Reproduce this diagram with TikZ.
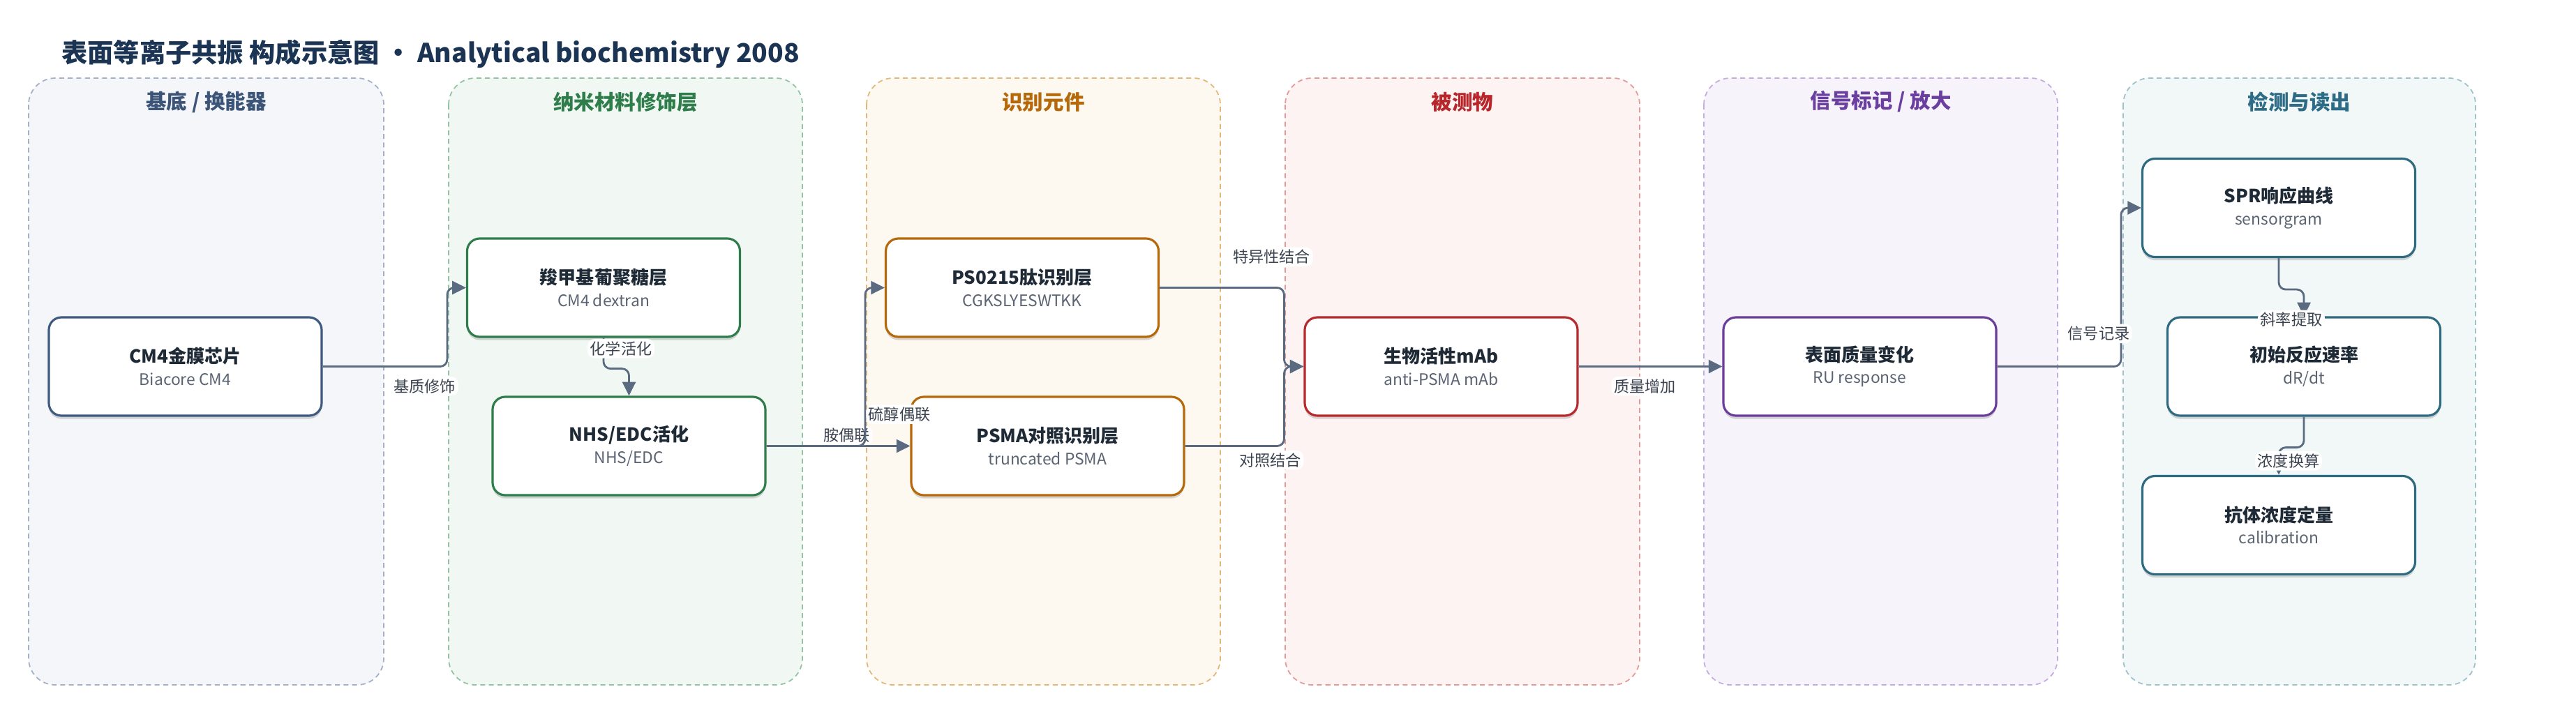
\documentclass[tikz,border=0pt]{standalone}
\usepackage{fontspec}
\setmainfont{Noto Sans CJK SC}
\usetikzlibrary{arrows.meta,shadows}

\definecolor{ink}{HTML}{1F2A37}
\definecolor{subc}{HTML}{5B6472}
\definecolor{titlec}{HTML}{1C3454}
\definecolor{flowc}{HTML}{5A6A80}
\definecolor{lblc}{HTML}{3A4250}
\definecolor{fillA}{HTML}{F4F6FA}\definecolor{lineA}{HTML}{A3B1C6}\definecolor{txtA}{HTML}{3B5477}\definecolor{boxA}{HTML}{3E5A80}
\definecolor{fillB}{HTML}{F1F8F3}\definecolor{lineB}{HTML}{93C3A3}\definecolor{txtB}{HTML}{2E7D4A}\definecolor{boxB}{HTML}{2E7D4A}
\definecolor{fillC}{HTML}{FDF8F0}\definecolor{lineC}{HTML}{E2B87A}\definecolor{txtC}{HTML}{B5690A}\definecolor{boxC}{HTML}{B5690A}
\definecolor{fillD}{HTML}{FDF3F2}\definecolor{lineD}{HTML}{E39A98}\definecolor{txtD}{HTML}{B8262B}\definecolor{boxD}{HTML}{B8292D}
\definecolor{fillE}{HTML}{F6F3FB}\definecolor{lineE}{HTML}{C4ACE0}\definecolor{txtE}{HTML}{6B3FA0}\definecolor{boxE}{HTML}{6A3D9A}
\definecolor{fillF}{HTML}{F2F7F8}\definecolor{lineF}{HTML}{9FC1C9}\definecolor{txtF}{HTML}{2D6C86}\definecolor{boxF}{HTML}{2E6A80}

\newcommand{\boxsub}{\fontsize{6.5}{8}\selectfont\mdseries\color{subc}}

\begin{document}
\begin{tikzpicture}[
		lane/.style={dash pattern=on 2pt off 1.5pt, line width=0.5pt, rounded corners=3.8mm},
		lanetitle/.style={font=\fontsize{8.4}{10}\selectfont\bfseries},
		box/.style={draw, fill=white, line width=0.9pt, rounded corners=1.8mm, minimum width=3.91cm, minimum height=1.41cm, align=center, text=ink, font=\fontsize{7.4}{9}\selectfont\bfseries, drop shadow={shadow xshift=0pt, shadow yshift=-1.3pt, opacity=0.15, fill=black}},
		flow/.style={draw=flowc, line width=0.8pt, rounded corners=1mm, -{Triangle[length=5.6pt,width=5.4pt]}},
		lbl/.style={fill=white, text=lblc, inner sep=1pt, font=\fontsize{6.3}{7.5}\selectfont}
	]
	\useasboundingbox (0,0) rectangle (36.92,-10.07);

	\node[anchor=west, text=titlec, font=\fontsize{10.6}{12}\selectfont\bfseries] (ttl) at (0.76,-0.77) {表面等离子共振 构成示意图 · Analytical biochemistry 2008};

	\draw[lane, fill=fillA, draw=lineA] (0.41,-1.12) rectangle (5.50,-9.82);
	\draw[lane, fill=fillB, draw=lineB] (6.43,-1.12) rectangle (11.50,-9.82);
	\draw[lane, fill=fillC, draw=lineC] (12.42,-1.12) rectangle (17.49,-9.82);
	\draw[lane, fill=fillD, draw=lineD] (18.42,-1.12) rectangle (23.50,-9.82);
	\draw[lane, fill=fillE, draw=lineE] (24.42,-1.12) rectangle (29.49,-9.82);
	\draw[lane, fill=fillF, draw=lineF] (30.43,-1.12) rectangle (35.48,-9.82);

	\node[lanetitle, text=txtA] (tA) at (2.955,-1.46) {基底 / 换能器};
	\node[lanetitle, text=txtB] (tB) at (8.965,-1.46) {纳米材料修饰层};
	\node[lanetitle, text=txtC] (tC) at (14.955,-1.46) {识别元件};
	\node[lanetitle, text=txtD] (tD) at (20.96,-1.46) {被测物};
	\node[lanetitle, text=txtE] (tE) at (26.955,-1.46) {信号标记 / 放大};
	\node[lanetitle, text=txtF] (tF) at (32.955,-1.46) {检测与读出};

	\node[box, draw=boxA] (cm4) at (2.655,-5.255) {CM4金膜芯片\\{\boxsub Biacore CM4}};
	\node[box, draw=boxB] (dex) at (8.65,-4.125) {羧甲基葡聚糖层\\{\boxsub CM4 dextran}};
	\node[box, draw=boxB] (nhs) at (9.015,-6.395) {NHS/EDC活化\\{\boxsub NHS/EDC}};
	\node[box, draw=boxC] (ps) at (14.65,-4.125) {PS0215肽识别层\\{\boxsub CGKSLYESWTKK}};
	\node[box, draw=boxC] (psma) at (15.015,-6.395) {PSMA对照识别层\\{\boxsub truncated PSMA}};
	\node[box, draw=boxD] (mab) at (20.655,-5.255) {生物活性mAb\\{\boxsub anti-PSMA mAb}};
	\node[box, draw=boxE] (ru) at (26.655,-5.255) {表面质量变化\\{\boxsub RU response}};
	\node[box, draw=boxF] (spr) at (32.66,-2.98) {SPR响应曲线\\{\boxsub sensorgram}};
	\node[box, draw=boxF] (ini) at (33.02,-5.255) {初始反应速率\\{\boxsub dR/dt}};
	\node[box, draw=boxF] (cal) at (32.66,-7.53) {抗体浓度定量\\{\boxsub calibration}};

	\draw[flow] (cm4.east) -| ([xshift=-0.27cm]dex.west) node[lbl, below=0.13cm, pos=0.41] {基质修饰} -- (dex.west);
	\draw[flow] (dex.south) node[lbl, anchor=north, xshift=0.25cm] {化学活化} -- ++(0,-0.44) -| (nhs.north);
	\draw[flow] (nhs.east) -- (psma.west) node[lbl, above, pos=0.56] {胺偶联};
	\draw[flow] (nhs.east) -| ([xshift=-0.28cm]ps.west) node[lbl, right, pos=0.6] {硫醇偶联} -- (ps.west);
	\draw[flow] (ps.east) -| ([xshift=-0.28cm]mab.west) node[lbl, above=0.29cm, pos=0.45] {特异性结合} -- (mab.west);
	\draw[flow] (psma.east) -| ([xshift=-0.28cm]mab.west) node[lbl, below=0.05cm, pos=0.43] {对照结合} -- (mab.west);
	\draw[flow] (mab.east) -- (ru.west) node[lbl, below=0.13cm, pos=0.46] {质量增加};
	\draw[flow] (ru.east) -| ([xshift=-0.29cm]spr.west) node[lbl, above=0.32cm, pos=0.41] {信号记录} -- (spr.west);
	\draw[flow] (spr.south) -- ++(0,-0.45) -| (ini.north) node[lbl, at end, xshift=-0.18cm, yshift=-0.05cm] {斜率提取};
	\draw[flow] (ini.south) -- ++(0,-0.44) -| (cal.north) node[lbl, at end, xshift=0.14cm, yshift=0.2cm] {浓度换算};
\end{tikzpicture}
\end{document}
